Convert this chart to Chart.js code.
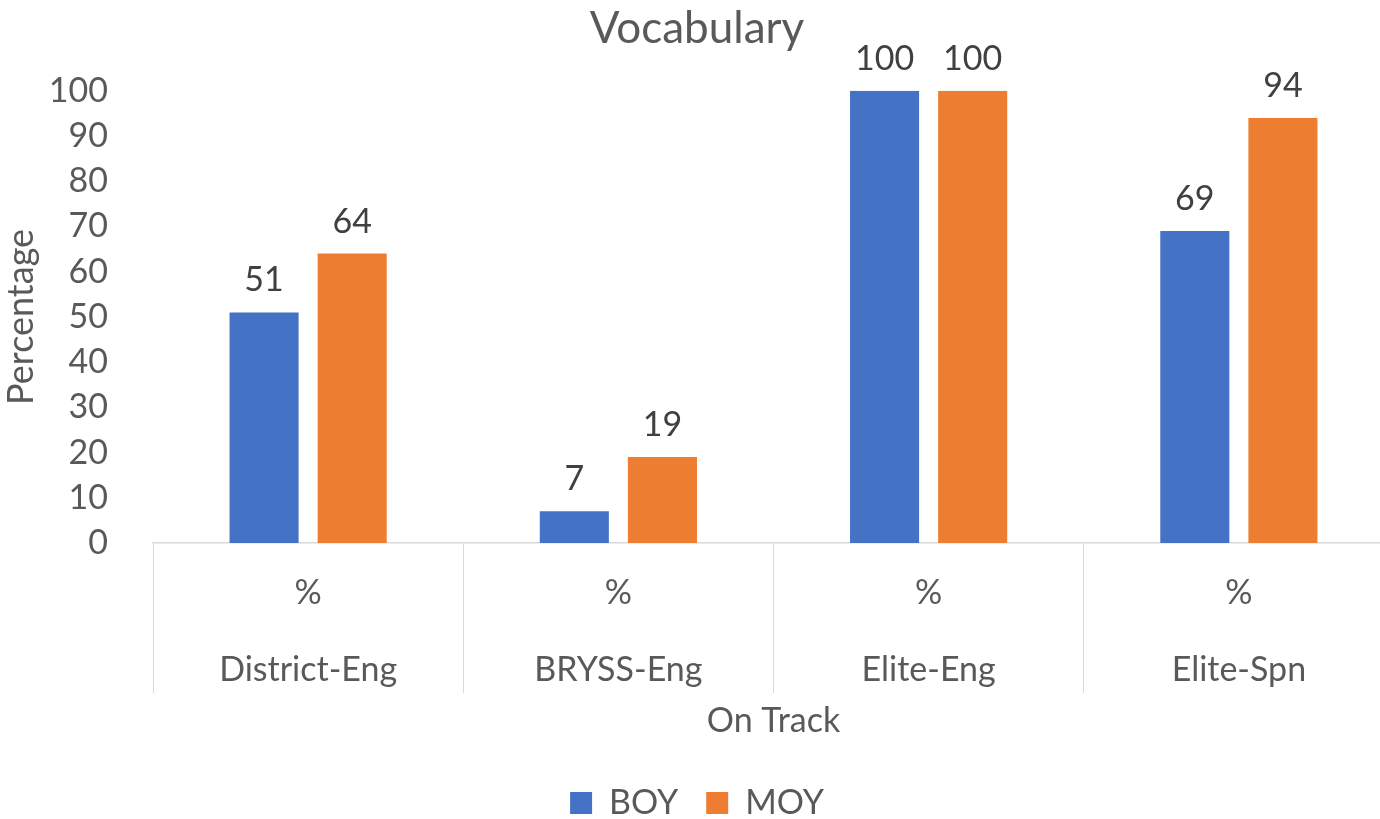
<!DOCTYPE html>
<html lang="en">
<head>
    <meta charset="UTF-8">
    <title>Vocabulary</title>
    <style>
        html, body { margin: 0; padding: 0; background: #fff; overflow: hidden; }
        .wrap { width: 1380px; height: 819px; overflow: hidden; }
    </style>
</head>
<body>

    <div class="wrap">
        <canvas id="myChart" width="1394" height="830"></canvas>
    </div>

    <script src="https://cdnjs.cloudflare.com/ajax/libs/Chart.js/4.4.1/chart.umd.js"></script>
    <script>
        var categories = ['District-Eng', 'BRYSS-Eng', 'Elite-Eng', 'Elite-Spn'];
        var subLabel = '%';
        var boyValues = [51, 7, 100, 69];
        var moyValues = [64, 19, 100, 94];
        var yTicks = [0, 10, 20, 30, 40, 50, 60, 70, 80, 90, 100];

        var fontFamily = 'Lato, "Open Sans", sans-serif';
        var textColor = '#595959';
        var lineColor = '#d9d9d9';

        // value labels above each bar
        var barLabels = {
            id: 'barLabels',
            afterDatasetsDraw: function (chart) {
                var ctx = chart.ctx;
                ctx.save();
                ctx.font = '34px ' + fontFamily;
                ctx.fillStyle = '#404040';
                ctx.textAlign = 'center';
                ctx.textBaseline = 'middle';
                chart.data.datasets.forEach(function (ds, i) {
                    chart.getDatasetMeta(i).data.forEach(function (bar, j) {
                        ctx.fillText(ds.data[j], bar.x, bar.y - 32);
                    });
                });
                ctx.restore();
            }
        };

        function createChart() {
            var ctx = document.getElementById('myChart').getContext('2d');
            new Chart(ctx, {
                type: 'bar',
                data: {
                    labels: categories.map(function (c) { return [subLabel, c]; }),
                    datasets: [
                        { label: 'BOY', data: boyValues, backgroundColor: '#4472C4' },
                        { label: 'MOY', data: moyValues, backgroundColor: '#ED7D31' }
                    ]
                },
                options: {
                    responsive: false,
                    animation: false,
                    categoryPercentage: 0.568,
                    barPercentage: 0.784,
                    layout: { padding: { top: 2, right: 0, left: 0, bottom: 0 } },
                    plugins: {
                        title: {
                            display: true,
                            text: 'Vocabulary',
                            color: textColor,
                            font: { family: fontFamily, size: 44, weight: 'normal' },
                            padding: { top: 0, bottom: 36 }
                        },
                        legend: {
                            position: 'bottom',
                            labels: {
                                color: textColor,
                                font: { family: fontFamily, size: 34 },
                                boxWidth: 22,
                                boxHeight: 22,
                                padding: 28
                            }
                        },
                        tooltip: { enabled: false }
                    },
                    scales: {
                        x: {
                            afterFit: function (scale) { scale.height = 215; },
                            grid: {
                                offset: true,
                                drawOnChartArea: false,
                                tickLength: 150,
                                color: lineColor
                            },
                            border: { color: lineColor, width: 1.5 },
                            ticks: {
                                color: textColor,
                                font: { family: fontFamily, size: 34, lineHeight: 2.27 },
                                padding: -139,
                                maxRotation: 0
                            },
                            title: {
                                display: true,
                                text: 'On Track',
                                color: textColor,
                                font: { family: fontFamily, size: 34 },
                                padding: { top: 0, bottom: 17 }
                            }
                        },
                        y: {
                            min: yTicks[0],
                            max: yTicks[yTicks.length - 1],
                            afterFit: function (scale) { scale.width = 153; },
                            afterBuildTicks: function (axis) {
                                axis.ticks = yTicks.map(function (v) { return { value: v }; });
                            },
                            grid: { display: false },
                            border: { display: false },
                            ticks: {
                                color: textColor,
                                font: { family: fontFamily, size: 34 },
                                padding: 37
                            },
                            title: {
                                display: true,
                                text: 'Percentage',
                                color: textColor,
                                font: { family: fontFamily, size: 36 },
                                padding: { top: 0, bottom: 0 }
                            }
                        }
                    }
                },
                plugins: [barLabels]
            });
        }
        createChart();
    </script>

</body>
</html>
